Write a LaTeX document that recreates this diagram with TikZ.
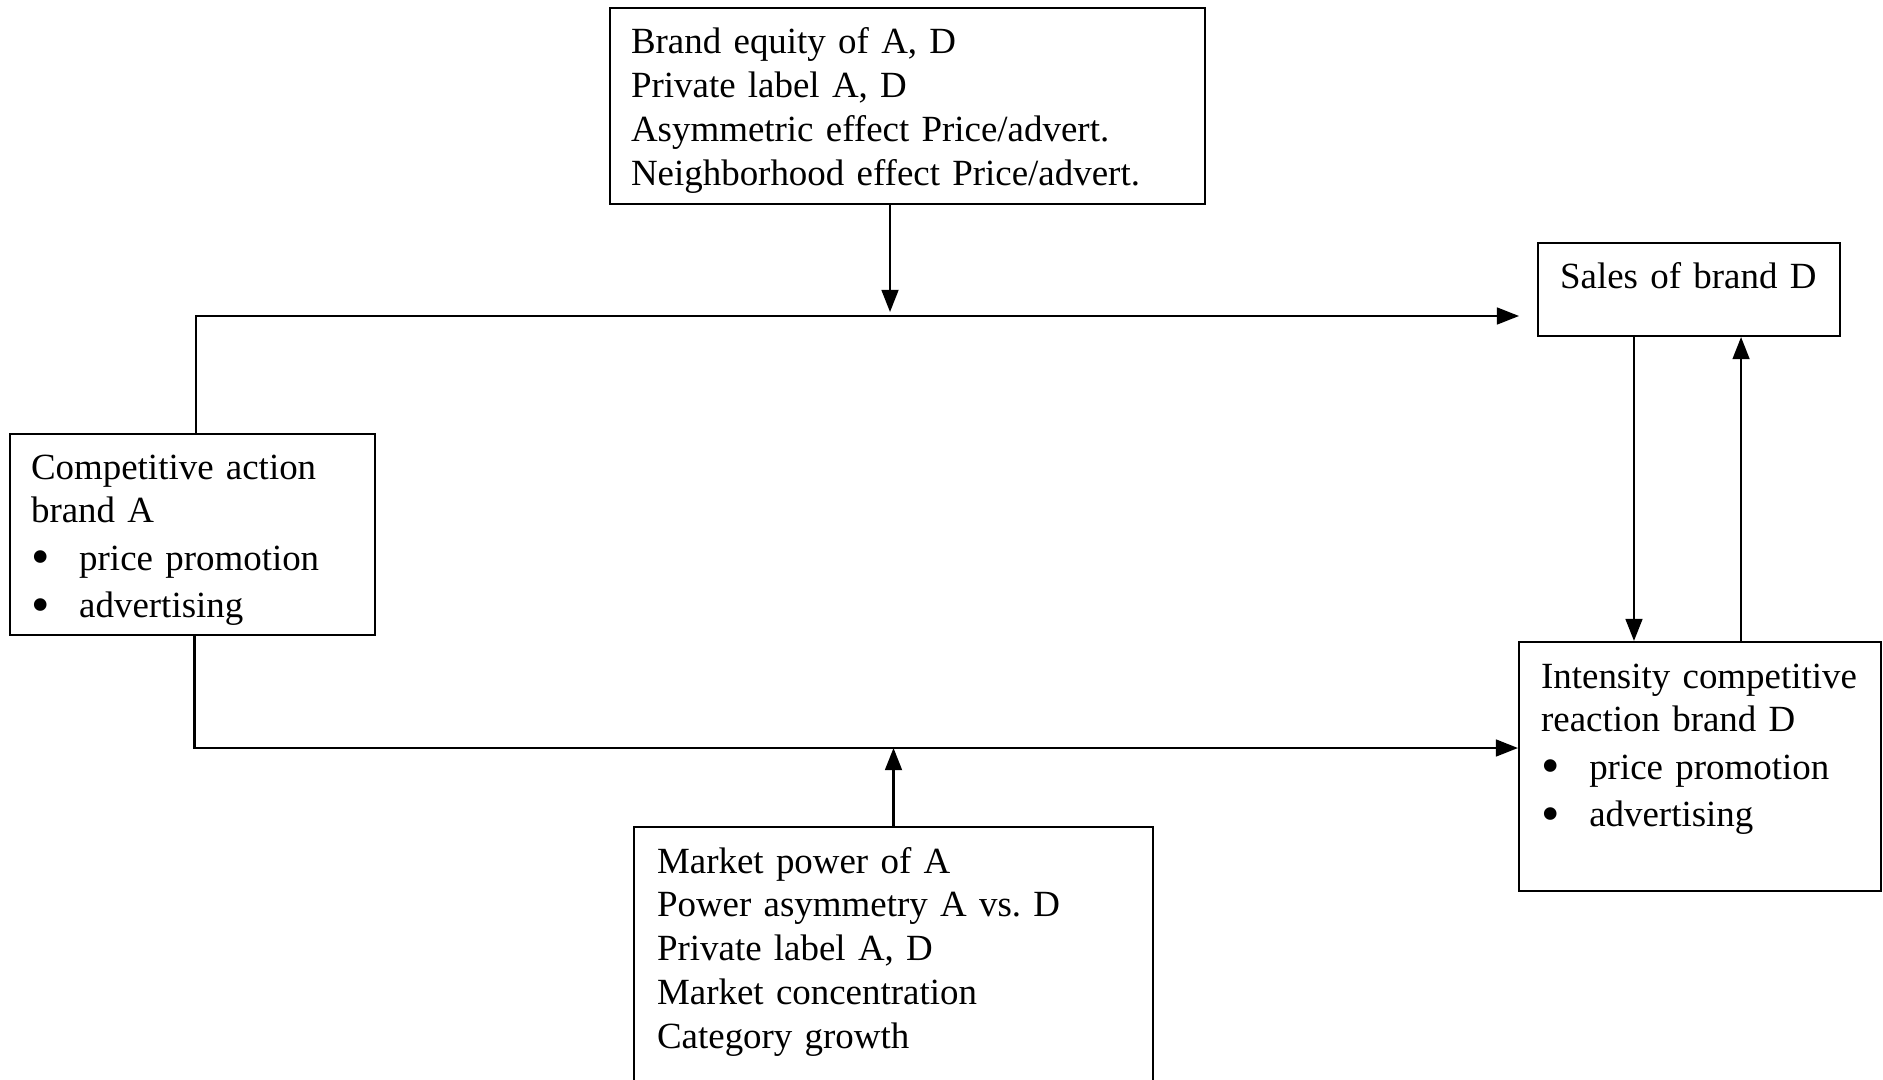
\documentclass[tikz,border=0pt]{standalone}
\usepackage{fontspec}
\setmainfont{Liberation Serif}
\usetikzlibrary{positioning, arrows.meta, fit}
\frenchspacing
\newcommand{\bitem}[1]{\makebox[13.7pt][l]{\raisebox{-1.2pt}{\fontsize{15pt}{15pt}\selectfont\textbullet}}#1}

\begin{document}
\begin{tikzpicture}[
        x=0.01cm, y=-0.01cm,
        line width=0.6pt,
        >={Triangle[length=6.3pt, width=4.8pt]},
        box/.style={draw, rectangle, inner sep=0pt},
        txt/.style={anchor=base west, align=left, inner sep=0pt, text width=#1, font=\fontsize{10.5pt}{12.5pt}\selectfont}
    ]
    \useasboundingbox (0,0) rectangle (1883,1079);

    % Boxes
    \node[box, fit={(610,8) (1205,204)}] (equity) {};
    \node[box, fit={(1538,243) (1840,336)}] (sales) {};
    \node[box, fit={(10,434) (375,635)}] (action) {};
    \node[box, fit={(1519,642) (1881,891)}] (react) {};
    \node[box, fit={(634,827) (1153,1120)}] (market) {};

    % Texts
    \node[txt=5.6cm] (equitytxt) at (630,54) {Brand equity of A, D\\
        Private label A, D\\
        Asymmetric effect Price/advert.\\
        Neighborhood effect Price/advert.};
    \node[txt=2.8cm] (salestxt) at (1559,288) {Sales of brand D};
    \node[txt=3.4cm] (actiontxt) at (30,479) {Competitive action\\
        brand A\\[1pt]
        \bitem{price promotion}\\[1pt]
        \bitem{advertising}};
    \node[txt=3.4cm] (reacttxt) at (1540,688) {Intensity competitive\\
        reaction brand D\\[1pt]
        \bitem{price promotion}\\[1pt]
        \bitem{advertising}};
    \node[txt=4.8cm] (markettxt) at (656,873) {Market power of A\\
        Power asymmetry A vs. D\\
        Private label A, D\\
        Market concentration\\
        Category growth};

    % Free ends on the two main lines
    \coordinate (eqin) at (890,312);
    \coordinate (salesin) at (1519,316);
    \coordinate (reactin) at (react.west |- 0,748);

    % Main paths from brand A
    \draw[->] ([xshift=0.035cm]action.north) |- (salesin);
    \draw[->] ([xshift=0.02cm]action.south) |- (reactin);

    % Moderators
    \draw[->] (equity.south -| eqin) -- (eqin);
    \draw[->] (market.north) -- (market.north |- reactin);

    % Sales and reaction of D
    \draw[->] ([xshift=-0.55cm]sales.south) -- ([xshift=-0.55cm]sales.south |- react.north);
    \draw[->] ([xshift=0.52cm]sales.south |- react.north) -- ([xshift=0.52cm]sales.south);

\end{tikzpicture}
\end{document}
